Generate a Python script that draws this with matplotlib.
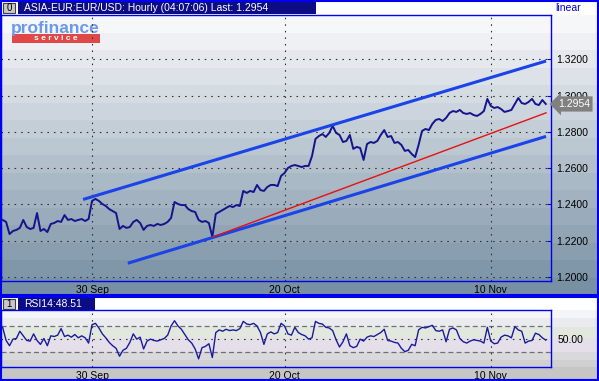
import numpy as np
import matplotlib
matplotlib.use('Agg')
import matplotlib.pyplot as plt
from matplotlib.patches import Rectangle
from matplotlib import rcParams

rcParams['font.family'] = ['Liberation Sans', 'DejaVu Sans']

# Hourly EUR/USD, sampled every 6 trading hours (x in trading days, 0 = 30 Sep)
start_day = -6.5
step_day = 0.25
price = [
    1.2314, 1.2303, 1.2236, 1.2253, 1.2259, 1.2270, 1.2314, 1.2275, 1.2264, 1.2270,
    1.2352, 1.2253, 1.2264, 1.2247, 1.2292, 1.2297, 1.2308, 1.2303, 1.2341, 1.2314,
    1.2319, 1.2308, 1.2314, 1.2319, 1.2308, 1.2319, 1.2419, 1.2430, 1.2419, 1.2402,
    1.2391, 1.2374, 1.2363, 1.2352, 1.2264, 1.2281, 1.2270, 1.2275, 1.2303, 1.2314,
    1.2297, 1.2259, 1.2281, 1.2286, 1.2281, 1.2292, 1.2286, 1.2292, 1.2303, 1.2325,
    1.2413, 1.2402, 1.2396, 1.2396, 1.2374, 1.2363, 1.2358, 1.2314, 1.2303, 1.2308,
    1.2297, 1.2220, 1.2347, 1.2358, 1.2369, 1.2380, 1.2391, 1.2385, 1.2396, 1.2391,
    1.2474, 1.2463, 1.2474, 1.2468, 1.2507, 1.2479, 1.2474, 1.2496, 1.2507, 1.2507,
    1.2501, 1.2557, 1.2573, 1.2601, 1.2612, 1.2617, 1.2612, 1.2606, 1.2612, 1.2612,
    1.2667, 1.2761, 1.2777, 1.2788, 1.2772, 1.2794, 1.2833, 1.2794, 1.2783, 1.2744,
    1.2750, 1.2783, 1.2706, 1.2717, 1.2711, 1.2645, 1.2733, 1.2744, 1.2739, 1.2750,
    1.2783, 1.2810, 1.2772, 1.2777, 1.2739, 1.2744, 1.2728, 1.2695, 1.2700, 1.2678,
    1.2661, 1.2728, 1.2805, 1.2816, 1.2810, 1.2844, 1.2866, 1.2871, 1.2860, 1.2877,
    1.2904, 1.2915, 1.2910, 1.2921, 1.2904, 1.2899, 1.2904, 1.2893, 1.2888, 1.2899,
    1.2915, 1.2982, 1.2943, 1.2932, 1.2937, 1.2926, 1.2910, 1.2915, 1.2921, 1.2954,
    1.2987, 1.2959, 1.2954, 1.2965, 1.2982, 1.2954, 1.2948, 1.2976, 1.2954,
]
rsi = [
    68, 48, 40, 50, 51, 62, 55, 48, 47, 58, 48, 42, 51, 40, 55, 54, 56, 66, 54, 56,
    53, 57, 52, 55, 52, 44, 72, 74, 67, 58, 52, 45, 40, 36, 24, 33, 36, 45, 58, 50,
    53, 35, 47, 50, 48, 47, 49, 51, 56, 70, 78, 70, 65, 57, 49, 44, 35, 20, 37, 39,
    43, 22, 60, 64, 62, 65, 63, 64, 63, 66, 77, 73, 72, 74, 70, 60, 42, 58, 61, 58,
    60, 74, 70, 58, 56, 68, 60, 57, 55, 50, 52, 77, 74, 73, 68, 67, 63, 49, 38, 46,
    58, 40, 37, 39, 50, 47, 53, 55, 54, 57, 60, 65, 48, 47, 45, 44, 36, 31, 33, 42,
    40, 64, 68, 67, 69, 71, 63, 62, 64, 46, 65, 67, 64, 51, 46, 44, 47, 49, 48, 47,
    44, 68, 47, 43, 44, 53, 56, 55, 52, 69, 64, 62, 44, 47, 48, 59, 57, 52, 48.51,
]

# channel and trend lines: (day, price) end points
upper_days = [-0.65, 33.02]
upper_px = [1.2427, 1.3191]
lower_days = [2.6, 33.02]
lower_px = [1.2075, 1.2775]
trend_days = [8.8, 33.02]
trend_px = [1.2220, 1.2905]

tick_days = [0, 14, 29]
tick_labels = ['30 Sep', '20 Oct', '10 Nov']
price_ticks = [1.20, 1.22, 1.24, 1.26, 1.28, 1.30, 1.32]

days = start_day + step_day * np.arange(len(price))

W, H = 599, 381
fig = plt.figure(figsize=(W / 100, H / 100), dpi=100)
fig.patch.set_facecolor('white')

# background layer in pixel coordinates
bg = fig.add_axes([0, 0, 1, 1], zorder=0)
bg.set_xlim(0, W)
bg.set_ylim(H, 0)
bg.axis('off')

# banded gradient of the price panel
edges = np.linspace(15, 295, 17)
c0 = np.array(matplotlib.colors.to_rgb('#f6f7f9'))
c1 = np.array(matplotlib.colors.to_rgb('#7890a4'))
for i in range(len(edges) - 1):
    t = i / (len(edges) - 2)
    bg.add_patch(Rectangle((0, edges[i]), W, edges[i + 1] - edges[i] + 0.5,
                           fc=c0 + (c1 - c0) * t, ec='none'))

# RSI panel bands
rsi_bands = [(310, 318, '#f4f5f8'), (318, 327, '#e9ebee'), (327, 338, '#e3e8de'),
             (338, 352, '#e4dfe8'), (352, 360, '#d9d9db'), (360, 367, '#d0d0d0'),
             (367, 381, '#c6c6c6')]
for y0, y1, c in rsi_bands:
    bg.add_patch(Rectangle((0, y0), W, y1 - y0, fc=c, ec='none'))

# title bars
def title_bar(y0, num, text, x1):
    bg.add_patch(Rectangle((3, y0 + 1.5), 12, 10, fc='#c8c8c8', ec='#404040', lw=0.8))
    bg.text(9, y0 + 7, num, fontsize=7, ha='center', va='center', color='black')
    bg.add_patch(Rectangle((18, y0), x1 - 18, 13, fc='#0c0c84', ec='none'))
    bg.text(24, y0 + 7, text, fontsize=7.5, ha='left', va='center', color='white')

title_bar(1, '0', 'ASIA-EUR:EUR/USD: Hourly (04:07:06) Last: 1.2954', 316)
title_bar(297, '1', 'RSI14:48.51', 95)
bg.text(555, 8, 'linear', fontsize=7.5, color='#0000dd', ha='left', va='center')

# logo
bg.text(11, 33, 'profinance', fontsize=12.5, fontweight='bold', color='#6a98ea',
        va='baseline', ha='left')
bg.add_patch(Rectangle((12, 34), 88, 9, fc='#e04848', ec='none'))
bg.text(56, 38.8, 's e r v i c e', fontsize=6, fontweight='bold', color='white',
        ha='center', va='center')

# outer frames
bg.add_patch(Rectangle((0.8, 0.8), 597, 294, fc='none', ec='#0000ee', lw=1.5))
bg.add_patch(Rectangle((0.8, 297), 597, 83, fc='none', ec='#0000ee', lw=1.5))

dot = (0, (1.4, 4.5))

# price panel
ax = fig.add_axes([1 / W, 1 - 281 / H, 550 / W, 266 / H], zorder=1)
ax.patch.set_alpha(0)
ax.plot(days, price, color='#14148c', lw=1.4, zorder=3)
ax.plot(upper_days, upper_px, color='#1a44e8', lw=2.2, solid_capstyle='butt', zorder=4)
ax.plot(lower_days, lower_px, color='#1a44e8', lw=2.2, solid_capstyle='butt', zorder=4)
ax.plot(trend_days, trend_px, color='#e81010', lw=1.0, zorder=5)
ax.set_xlim(-6.62, 33.38)
ax.set_ylim(1.1977, 1.3445)
ax.set_xticks(tick_days)
ax.set_xticklabels(tick_labels)
ax.set_yticks(price_ticks)
ax.set_yticklabels(['%.4f' % v for v in price_ticks])
ax.yaxis.tick_right()
ax.grid(True, color='#303030', linestyle=dot, lw=0.8)
ax.tick_params(axis='x', length=0, labelsize=7.5, pad=3)
ax.tick_params(axis='y', direction='in', length=3, color='#0000ee', labelsize=7.5, pad=4)
for s in ax.spines.values():
    s.set_color('#0000ee')
    s.set_linewidth(1.0)
last = price[-1]
ax.annotate('%.4f' % last, xy=(1, last), xycoords=('axes fraction', 'data'),
            xytext=(5, 0), textcoords='offset points', va='center', ha='left',
            fontsize=7.5, color='white', annotation_clip=False, zorder=6,
            bbox=dict(boxstyle='larrow,pad=0.25', fc='#808080', ec='none'))

# RSI panel
ax2 = fig.add_axes([1 / W, 1 - 367 / H, 550 / W, 57 / H], zorder=1)
ax2.patch.set_alpha(0)
ax2.plot(days, rsi, color='#1a1a9c', lw=1.0, zorder=3)
ax2.axhline(70, color='#707070', lw=0.9, linestyle=(0, (4, 2.5)))
ax2.axhline(30, color='#707070', lw=0.9, linestyle=(0, (4, 2.5)))
ax2.axhline(50, color='#303030', lw=0.8, linestyle=dot)
for d in tick_days:
    ax2.axvline(d, color='#303030', lw=0.8, linestyle=dot)
ax2.set_xlim(-6.62, 33.38)
ax2.set_ylim(7.6, 94.3)
ax2.set_xticks(tick_days)
ax2.set_xticklabels(tick_labels)
ax2.set_yticks([50])
ax2.set_yticklabels(['50.00'])
ax2.yaxis.tick_right()
ax2.tick_params(axis='x', length=0, labelsize=7.5, pad=3)
ax2.tick_params(axis='y', length=0, labelsize=7.5, pad=5)
for s in ax2.spines.values():
    s.set_color('#0000ee')
    s.set_linewidth(1.0)

fig.savefig('out.png', dpi=100)
